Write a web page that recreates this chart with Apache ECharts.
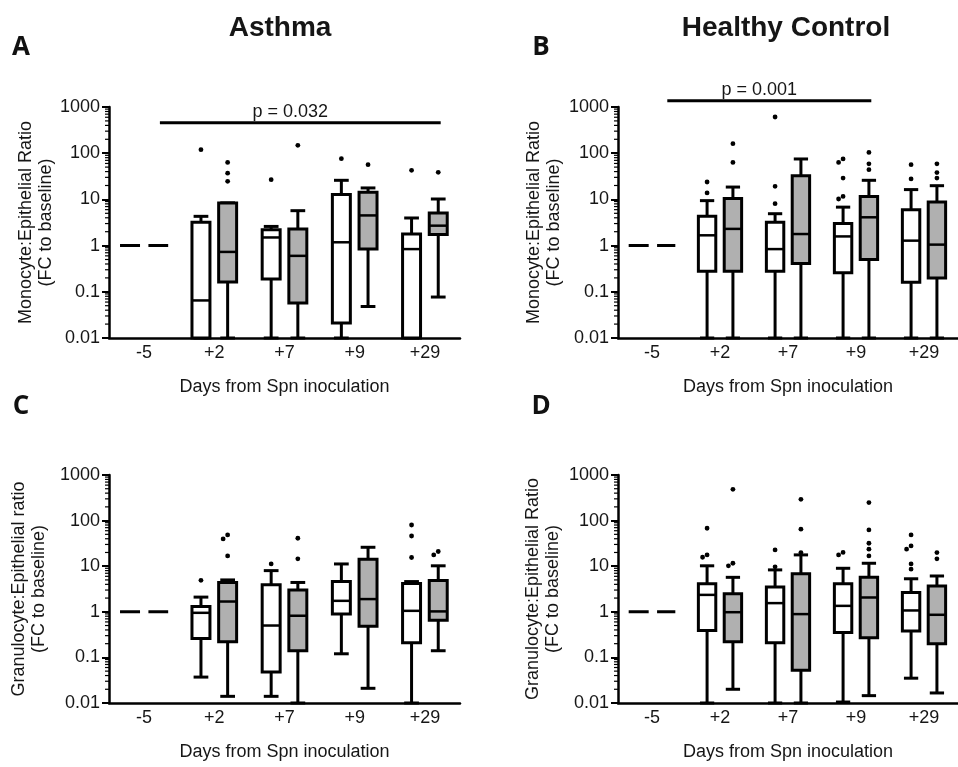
<!DOCTYPE html>
<html><head><meta charset="utf-8">
<script src="https://cdn.jsdelivr.net/npm/echarts@6/dist/echarts.min.js"></script>
<style>html,body{margin:0;padding:0;background:#fff}#c{width:958px;height:767px}</style>
</head><body><div id="c"></div><script>
// ---------- data ----------
const categories = ['-5', '+2', '+7', '+9', '+29'];
const boxCategoryIndex = [1, 2, 3, 4];
const baselineValue = [1];
const yMin = 0.01, yMax = 1000;

// [min, q1, median, q3, max] for +2, +7, +9, +29
const monoAsthmaWhite = [[0.01, 0.01, 0.065, 3.2, 4.3], [0.01, 0.19, 1.5, 2.2, 2.6], [0.01, 0.021, 1.18, 12.7, 25.9], [0.01, 0.01, 0.84, 1.78, 3.96]];
const monoAsthmaGrey = [[0.01, 0.163, 0.73, 8.4, 8.4], [0.01, 0.057, 0.6, 2.3, 5.7], [0.048, 0.84, 4.5, 14.2, 17.7], [0.077, 1.73, 2.7, 5.1, 10.2]];
const monoHealthyWhite = [[0.01, 0.28, 1.67, 4.3, 9.4], [0.01, 0.28, 0.84, 3.2, 4.9], [0.01, 0.26, 1.58, 3.0, 6.8], [0.01, 0.16, 1.28, 6.0, 16.3]];
const monoHealthyGrey = [[0.01, 0.28, 2.3, 10.4, 18.5], [0.01, 0.41, 1.78, 32.6, 75], [0.01, 0.5, 4.1, 11.6, 25.9], [0.01, 0.2, 1.05, 8.8, 19.8]];
const granAsthmaWhite = [[0.037, 0.26, 0.95, 1.31, 2.1], [0.014, 0.048, 0.5, 3.9, 8.0], [0.12, 0.9, 1.74, 4.6, 11.2], [0.01, 0.21, 1.05, 4.2, 4.6]];
const granAsthmaGrey = [[0.014, 0.22, 1.68, 4.4, 5.0], [0.01, 0.14, 0.82, 3.0, 4.4], [0.021, 0.48, 1.9, 14.2, 26], [0.14, 0.65, 1.02, 4.85, 10.2]];
const granHealthyWhite = [[0.01, 0.39, 2.35, 4.1, 10.2], [0.01, 0.21, 1.55, 3.5, 8.3], [0.0105, 0.35, 1.35, 4.1, 9.0], [0.035, 0.38, 1.07, 2.65, 5.3]];
const granHealthyGrey = [[0.02, 0.22, 0.98, 2.5, 5.7], [0.01, 0.052, 0.89, 6.8, 17.7], [0.0145, 0.27, 2.06, 5.7, 11.6], [0.0166, 0.2, 0.86, 3.7, 6.1]];

// outliers per category (+2, +7, +9, +29)
const monoAsthmaWhiteOut = [[119], [26.7], [76], [42.6]];
const monoAsthmaGreyOut = [[63, 37, 24.6], [148], [56.5], [38.5]];
const monoHealthyWhiteOut = [[23.8, 13.8], [608, 19.2, 8.1], [75, 63, 29, 11.6, 10.2], [56.5, 27.7]];
const monoHealthyGreyOut = [[161, 63], [], [104, 59, 44], [59, 38, 29]];
const granAsthmaWhiteOut = [[4.9], [11.2], [], [80, 46, 15.5]];
const granAsthmaGreyOut = [[48.5, 39.7, 16.8], [41, 14.5], [], [21, 17.7]];
const granHealthyWhiteOut = [[68, 17.7, 15.7], [22.8, 9.7], [20, 17.7], [48.5, 27.9, 23.6, 11.2, 8.6]];
const granHealthyGreyOut = [[485, 11.6, 10.2], [293, 65, 19.9], [248, 62.5, 31.9, 23.6, 16.8], [19.9, 14.5]];

const pLabels = ['p = 0.032', 'p = 0.001'];
const pSpans = [[0, 4, 457], [0, 3, 1370]]; // [from category, to category, value]

const panelTitles = ['Asthma', 'Healthy Control'];
const panelLetters = ['A', 'B', 'C', 'D'];
const yNames = ['Monocyte:Epithelial Ratio\n(FC to baseline)', 'Monocyte:Epithelial Ratio\n(FC to baseline)',
                'Granulocyte:Epithelial ratio\n(FC to baseline)', 'Granulocyte:Epithelial Ratio\n(FC to baseline)'];
const xName = 'Days from Spn inoculation';

const minorTickValues = [];
for (let e = -2; e < 3; e++) for (let m = 2; m <= 9; m++) minorTickValues.push(+(m * Math.pow(10, e)).toPrecision(2));

// ---------- styling ----------
const FONT = '"Liberation Sans", Arial, sans-serif';
const INK = '#000';
const TXT = '#161616';
const GREY = '#b0b0b0';
const LW = 3;

const panels = [
  { grid: { left: 109, top: 107, width: 351, height: 231 }, white: monoAsthmaWhite, grey: monoAsthmaGrey, wo: monoAsthmaWhiteOut, go: monoAsthmaGreyOut, p: 0, gap: 51 },
  { grid: { left: 618, top: 107, width: 355, height: 231 }, white: monoHealthyWhite, grey: monoHealthyGrey, wo: monoHealthyWhiteOut, go: monoHealthyGreyOut, p: 1, gap: 54 },
  { grid: { left: 109, top: 475, width: 351, height: 228 }, white: granAsthmaWhite, grey: granAsthmaGrey, wo: granAsthmaWhiteOut, go: granAsthmaGreyOut, p: -1, gap: 60 },
  { grid: { left: 618, top: 475, width: 355, height: 228 }, white: granHealthyWhite, grey: granHealthyGrey, wo: granHealthyWhiteOut, go: granHealthyGreyOut, p: -1, gap: 55 }
];

function boxRender(side, fill) {
  return function (params, api) {
    const cat = api.value(0);
    const band = api.size([1, 0], [cat, 1])[0];
    const cx = api.coord([cat, 1])[0] + side * 0.19 * band;
    const y = [1, 2, 3, 4, 5].map(d => api.coord([cat, api.value(d)])[1]);
    const half = 0.128 * band, cap = 0.105 * band;
    const ls = { stroke: INK, lineWidth: LW };
    return {
      type: 'group',
      children: [
        { type: 'line', shape: { x1: cx, y1: y[1], x2: cx, y2: y[0] }, style: ls },
        { type: 'line', shape: { x1: cx, y1: y[3], x2: cx, y2: y[4] }, style: ls },
        { type: 'line', shape: { x1: cx - cap, y1: y[0], x2: cx + cap, y2: y[0] }, style: ls },
        { type: 'line', shape: { x1: cx - cap, y1: y[4], x2: cx + cap, y2: y[4] }, style: ls },
        { type: 'rect', shape: { x: cx - half, y: y[3], width: 2 * half, height: y[1] - y[3] }, style: { fill: fill, stroke: INK, lineWidth: LW } },
        { type: 'line', shape: { x1: cx - half, y1: y[2], x2: cx + half, y2: y[2] }, style: { stroke: INK, lineWidth: 2.5 } }
      ]
    };
  };
}

function outlierRender(side, items) {
  return function (params, api) {
    const idx = params.dataIndex;
    const cat = items[idx][0];
    const band = api.size([1, 0], [cat, 1])[0];
    const cx = api.coord([cat, 1])[0] + side * 0.19 * band;
    const placed = [];
    let myOff = 0, myY = 0;
    for (let j = 0; j <= idx; j++) {
      if (items[j][0] !== cat) continue;
      const yy = api.coord([cat, items[j][1]])[1];
      const offs = [0, -4.5, 4.5, -9, 9];
      let off = 0;
      for (const o of offs) {
        if (placed.every(p => Math.hypot(p.x - o, p.y - yy) >= 5)) { off = o; break; }
      }
      placed.push({ x: off, y: yy });
      if (j === idx) { myOff = off; myY = yy; }
    }
    return { type: 'circle', shape: { cx: cx + myOff, cy: myY, r: 2.4 }, style: { fill: INK } };
  };
}

const grids = [], xAxes = [], yAxes = [], series = [];
panels.forEach((pn, i) => {
  grids.push(pn.grid);
  xAxes.push({
    type: 'category', gridIndex: i, data: categories,
    axisLine: { lineStyle: { color: INK, width: 2.5 } },
    axisTick: { show: false },
    axisLabel: { color: TXT, fontSize: 18, fontFamily: FONT, margin: 6 },
    name: xName, nameLocation: 'middle', nameGap: 40,
    nameTextStyle: { color: TXT, fontSize: 18, fontFamily: FONT }
  });
  yAxes.push({
    type: 'log', logBase: 10, gridIndex: i, min: yMin, max: yMax,
    axisLine: { show: true, onZero: false, lineStyle: { color: INK, width: 2.5 } },
    axisTick: { show: true, length: 7, lineStyle: { color: INK, width: 2 } },
    splitLine: { show: false },
    axisLabel: { color: TXT, fontSize: 18, fontFamily: FONT, margin: 9, formatter: v => String(Number(Number(v).toPrecision(2))) },
    name: yNames[i], nameLocation: 'middle', nameGap: pn.gap,
    nameTextStyle: { color: TXT, fontSize: 18, lineHeight: 20, fontFamily: FONT }
  });
  const wData = pn.white.map((b, k) => [boxCategoryIndex[k]].concat(b));
  const gData = pn.grey.map((b, k) => [boxCategoryIndex[k]].concat(b));
  series.push({ type: 'custom', xAxisIndex: i, yAxisIndex: i, data: wData, encode: { x: 0, y: [1, 2, 3, 4, 5] }, renderItem: boxRender(-1, '#fff'), silent: true, z: 3 });
  series.push({ type: 'custom', xAxisIndex: i, yAxisIndex: i, data: gData, encode: { x: 0, y: [1, 2, 3, 4, 5] }, renderItem: boxRender(1, GREY), silent: true, z: 3 });
  const wo = [], go = [];
  pn.wo.forEach((arr, k) => arr.forEach(v => wo.push([boxCategoryIndex[k], v])));
  pn.go.forEach((arr, k) => arr.forEach(v => go.push([boxCategoryIndex[k], v])));
  series.push({ type: 'custom', xAxisIndex: i, yAxisIndex: i, data: wo, encode: { x: 0, y: 1 }, renderItem: outlierRender(-1, wo), silent: true, z: 4 });
  series.push({ type: 'custom', xAxisIndex: i, yAxisIndex: i, data: go, encode: { x: 0, y: 1 }, renderItem: outlierRender(1, go), silent: true, z: 4 });
  // baseline dashed line at -5
  series.push({
    type: 'custom', xAxisIndex: i, yAxisIndex: i, data: baselineValue.map(v => [0, v]), encode: { x: 0, y: 1 }, silent: true, z: 3,
    renderItem: function (params, api) {
      const p = api.coord([api.value(0), api.value(1)]);
      const band = api.size([1, 0], [0, 1])[0];
      const h = 0.343 * band;
      return { type: 'line', shape: { x1: p[0] - h, y1: p[1], x2: p[0] + h, y2: p[1] }, style: { stroke: INK, lineWidth: LW, lineDash: [20, 8.4] } };
    }
  });
  // minor ticks on log axis
  series.push({
    type: 'custom', xAxisIndex: i, yAxisIndex: i, data: minorTickValues.map(v => [0, v]), encode: { x: 0, y: 1 }, silent: true, z: 10, clip: false,
    renderItem: function (params, api) {
      const p = api.coord([0, api.value(1)]);
      const band = api.size([1, 0], [0, 1])[0];
      const ax = p[0] - band / 2;
      return { type: 'line', shape: { x1: ax - 4, y1: p[1], x2: ax, y2: p[1] }, style: { stroke: INK, lineWidth: 1.2 } };
    }
  });
  if (pn.p >= 0) {
    const sp = pSpans[pn.p];
    const label = pLabels[pn.p];
    series.push({
      type: 'custom', xAxisIndex: i, yAxisIndex: i, data: [sp], encode: { x: [0, 1], y: 2 }, silent: true, z: 5, clip: false,
      renderItem: function (params, api) {
        const band = api.size([1, 0], [0, 1])[0];
        const a = api.coord([api.value(0), api.value(2)]);
        const b = api.coord([api.value(1), api.value(2)]);
        const x0 = a[0] + 0.225 * band, x1 = b[0] + 0.225 * band;
        return {
          type: 'group', children: [
            { type: 'line', shape: { x1: x0, y1: a[1], x2: x1, y2: a[1] }, style: { stroke: INK, lineWidth: 3 } },
            { type: 'text', x: (x0 + x1) / 2 - 10, y: a[1] - 2, style: { text: label, fill: TXT, fontSize: 18, fontFamily: FONT, align: 'center', verticalAlign: 'bottom' } }
          ]
        };
      }
    });
  }
});

const graphics = [];
const letterPos = [[21, 48], [541, 48], [21, 407], [541, 407]];
panelLetters.forEach((t, k) => graphics.push({ type: 'text', x: letterPos[k][0], y: letterPos[k][1], style: { text: t, fill: '#111', fontSize: 26, fontWeight: 'bold', fontFamily: '"Open Sans", sans-serif', align: 'center', verticalAlign: 'middle' } }));
const titlePos = [[280, 28], [786, 28]];
panelTitles.forEach((t, k) => graphics.push({ type: 'text', x: titlePos[k][0], y: titlePos[k][1], style: { text: t, fill: '#161616', fontSize: 28, fontWeight: 'bold', fontFamily: FONT, align: 'center', verticalAlign: 'middle' } }));

const chart = echarts.init(document.getElementById('c'), null, { renderer: 'canvas' });
chart.setOption({
  animation: false,
  backgroundColor: '#fff',
  grid: grids, xAxis: xAxes, yAxis: yAxes, series: series, graphic: graphics
});
</script></body></html>
